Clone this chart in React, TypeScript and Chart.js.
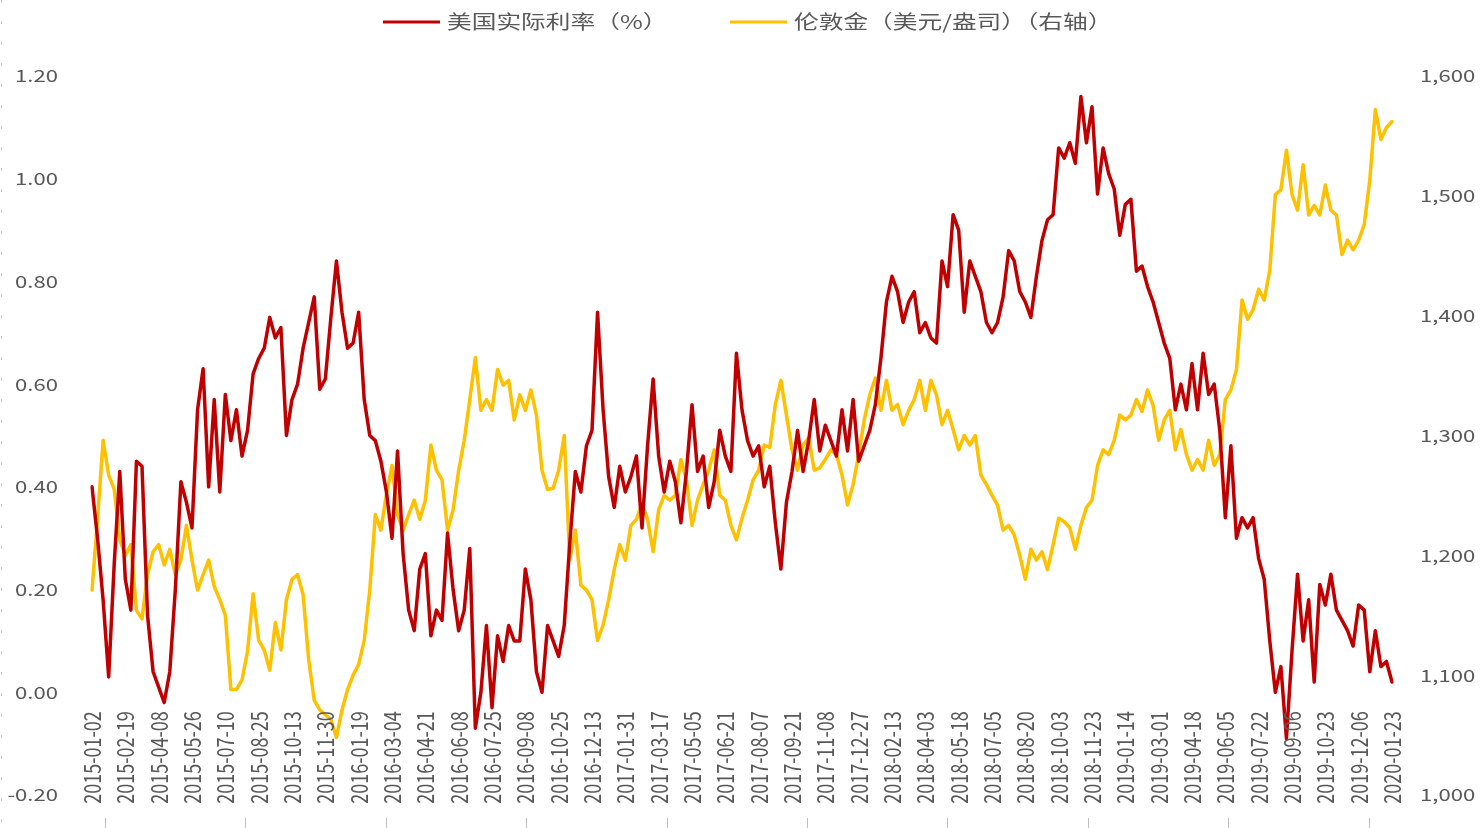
import React, { useEffect, useRef } from 'react';
import { Chart, registerables } from 'chart.js';

Chart.register(...registerables);

// ---- data ----
const tickDates = [
  '2015-01-02', '2015-02-19', '2015-04-08', '2015-05-26', '2015-07-10', '2015-08-25', '2015-10-13', '2015-11-30',
  '2016-01-19', '2016-03-04', '2016-04-21', '2016-06-08', '2016-07-25', '2016-09-08', '2016-10-25', '2016-12-13',
  '2017-01-31', '2017-03-17', '2017-05-05', '2017-06-21', '2017-08-07', '2017-09-21', '2017-11-08', '2017-12-27',
  '2018-02-13', '2018-04-03', '2018-05-18', '2018-07-05', '2018-08-20', '2018-10-03', '2018-11-23',
  '2019-01-14', '2019-03-01', '2019-04-18', '2019-06-05', '2019-07-22', '2019-09-06', '2019-10-23', '2019-12-06',
  '2020-01-23',
];
const pointsPerTick = 6;

const seriesNames = ['美国实际利率（%）', '伦敦金（美元/盎司）（右轴）'];

const realRate = [
  0.40, 0.30, 0.18, 0.03, 0.25, 0.43,
  0.22, 0.16, 0.45, 0.44, 0.15, 0.04,
  0.01, -0.02, 0.04, 0.20, 0.41, 0.37,
  0.32, 0.55, 0.63, 0.40, 0.57, 0.39,
  0.58, 0.49, 0.55, 0.46, 0.51, 0.62,
  0.65, 0.67, 0.73, 0.69, 0.71, 0.50,
  0.57, 0.60, 0.67, 0.72, 0.77, 0.59,
  0.61, 0.73, 0.84, 0.74, 0.67, 0.68,
  0.74, 0.57, 0.50, 0.49, 0.45, 0.39,
  0.30, 0.47, 0.27, 0.16, 0.12, 0.24,
  0.27, 0.11, 0.16, 0.14, 0.31, 0.20,
  0.12, 0.16, 0.28, -0.07, 0.00, 0.13,
  -0.03, 0.11, 0.06, 0.13, 0.10, 0.10,
  0.24, 0.18, 0.04, 0.00, 0.13, 0.10,
  0.07, 0.13, 0.29, 0.43, 0.39, 0.48,
  0.51, 0.74, 0.55, 0.42, 0.36, 0.44,
  0.39, 0.42, 0.46, 0.32, 0.48, 0.61,
  0.46, 0.39, 0.45, 0.41, 0.33, 0.43,
  0.56, 0.43, 0.46, 0.36, 0.41, 0.51,
  0.46, 0.43, 0.66, 0.55, 0.49, 0.46,
  0.48, 0.40, 0.44, 0.33, 0.24, 0.37,
  0.43, 0.51, 0.43, 0.49, 0.57, 0.47,
  0.52, 0.49, 0.46, 0.55, 0.47, 0.57,
  0.45, 0.48, 0.51, 0.56, 0.65, 0.76,
  0.81, 0.78, 0.72, 0.76, 0.78, 0.70,
  0.72, 0.69, 0.68, 0.84, 0.79, 0.93,
  0.90, 0.74, 0.84, 0.81, 0.78, 0.72,
  0.70, 0.72, 0.77, 0.86, 0.84, 0.78,
  0.76, 0.73, 0.81, 0.88, 0.92, 0.93,
  1.06, 1.04, 1.07, 1.03, 1.16, 1.07,
  1.14, 0.97, 1.06, 1.01, 0.98, 0.89,
  0.95, 0.96, 0.82, 0.83, 0.79, 0.76,
  0.72, 0.68, 0.65, 0.55, 0.60, 0.55,
  0.64, 0.55, 0.66, 0.58, 0.60, 0.51,
  0.34, 0.48, 0.30, 0.34, 0.32, 0.34,
  0.26, 0.22, 0.10, 0.00, 0.05, -0.09,
  0.08, 0.23, 0.10, 0.18, 0.02, 0.21,
  0.17, 0.23, 0.16, 0.14, 0.12, 0.09,
  0.17, 0.16, 0.04, 0.12, 0.05, 0.06,
  0.02,
];

const goldPrice = [
  1171, 1230, 1296, 1267, 1255, 1213,
  1200, 1209, 1154, 1147, 1184, 1203,
  1209, 1192, 1205, 1184, 1196, 1225,
  1196, 1171, 1184, 1196, 1174, 1163,
  1150, 1088, 1088, 1096, 1120, 1168,
  1129, 1121, 1104, 1144, 1121, 1163,
  1180, 1184, 1167, 1113, 1079, 1071,
  1067, 1063, 1048, 1071, 1088, 1100,
  1109, 1129, 1171, 1234, 1221, 1251,
  1275, 1234, 1221, 1234, 1246, 1230,
  1246, 1292, 1271, 1263, 1221, 1238,
  1271, 1296, 1330, 1365, 1321, 1330,
  1321, 1355, 1342, 1346, 1313, 1334,
  1321, 1338, 1317, 1271, 1255, 1256,
  1271, 1300, 1196, 1221, 1175, 1171,
  1163, 1129, 1142, 1163, 1188, 1209,
  1196, 1225, 1230, 1243, 1230, 1203,
  1238, 1250, 1246, 1250, 1280, 1263,
  1225, 1246, 1259, 1271, 1288, 1250,
  1246, 1225, 1213, 1231, 1246, 1263,
  1271, 1292, 1290, 1326, 1346, 1317,
  1288, 1271, 1292, 1298, 1271, 1273,
  1280, 1288, 1284, 1267, 1242, 1259,
  1284, 1313, 1334, 1348, 1321, 1346,
  1321, 1326, 1309, 1321, 1330, 1346,
  1321, 1346, 1334, 1309, 1321, 1305,
  1288, 1300, 1292, 1300, 1267, 1259,
  1250, 1242, 1221, 1225, 1217, 1200,
  1180, 1205, 1196, 1203, 1188, 1209,
  1231, 1228, 1223, 1205, 1225, 1240,
  1246, 1275, 1288, 1284, 1296, 1317,
  1313, 1317, 1330, 1320, 1338, 1325,
  1296, 1313, 1321, 1288, 1305, 1284,
  1271, 1280, 1271, 1296, 1275, 1284,
  1330, 1338, 1355, 1413, 1397, 1405,
  1422, 1413, 1438, 1501, 1505, 1538,
  1501, 1488, 1526, 1484, 1492, 1484,
  1509, 1488, 1484, 1451, 1463, 1455,
  1463, 1476, 1513, 1572, 1547, 1557,
  1562,
];

const leftAxis = { min: -0.2, max: 1.2, step: 0.2 };
const rightAxis = { min: 1000, max: 1600, step: 100 };

// ---- styles ----
const RED = '#C00000';
const GOLD = '#FFC000';
const TEXT = '#595959';
const FONT = '"Noto Sans CJK SC", "Noto Sans", sans-serif';
const STRETCH = 1.3;

const fmtLeft = (v: number) => (Math.abs(v) < 1e-9 ? 0 : v).toFixed(2);
const fmtRight = (v: number) => Math.round(v).toLocaleString('en-US');

function stretchedText(
  ctx: CanvasRenderingContext2D, text: string, x: number, y: number,
  align: CanvasTextAlign, rotate = 0,
) {
  ctx.save();
  ctx.translate(x, y);
  ctx.scale(STRETCH, 1);
  if (rotate) ctx.rotate(rotate);
  ctx.textAlign = align;
  ctx.textBaseline = 'middle';
  ctx.fillText(text, 0, 0);
  ctx.restore();
}

const overlayPlugin = {
  id: 'overlay',
  afterDraw(chart: any) {
    const ctx: CanvasRenderingContext2D = chart.ctx;
    const xs = chart.scales.x;
    const yl = chart.scales.y;
    const yr = chart.scales.y1;
    const area = chart.chartArea;
    ctx.save();
    ctx.fillStyle = TEXT;

    // left axis labels
    ctx.font = `17px ${FONT}`;
    yl.ticks.forEach((t: any) => {
      stretchedText(ctx, fmtLeft(t.value), area.left - 34, yl.getPixelForValue(t.value), 'right');
    });
    // right axis labels
    yr.ticks.forEach((t: any) => {
      stretchedText(ctx, fmtRight(t.value), area.right + 28, yr.getPixelForValue(t.value), 'left');
    });

    // category labels (rotated), placed just below the zero line
    const zeroY = yl.getPixelForValue(0);
    ctx.font = `18px ${FONT}`;
    (chart.data.labels as string[]).forEach((lab, i) => {
      if (!lab) return;
      stretchedText(ctx, lab, xs.getPixelForValue(i), zeroY + 19, 'right', -Math.PI / 2);
    });

    // small tick marks at the bottom
    ctx.strokeStyle = '#bfbfbf';
    ctx.lineWidth = 1;
    for (let k = 0; k < 10; k++) {
      const px = Math.round(xs.getPixelForDecimal((13 + 140.4 * k) / 1300)) + 0.5;
      ctx.beginPath();
      ctx.moveTo(px, 818);
      ctx.lineTo(px, 828);
      ctx.stroke();
    }

    // legend
    const legendX = [383, 730];
    ctx.font = `19px ${FONT}`;
    chart.data.datasets.forEach((ds: any, i: number) => {
      ctx.fillStyle = ds.borderColor;
      ctx.fillRect(legendX[i], 20.5, 57, 3);
      ctx.fillStyle = TEXT;
      stretchedText(ctx, ds.label, legendX[i] + 64, 22, 'left');
    });

    // dotted frame edge on the left
    ctx.strokeStyle = '#c8c8c8';
    ctx.setLineDash([3, 18]);
    ctx.beginPath();
    ctx.moveTo(1.5, 0);
    ctx.lineTo(1.5, 828);
    ctx.stroke();
    ctx.restore();
  },
};

export default function App() {
  const ref = useRef<HTMLCanvasElement | null>(null);

  useEffect(() => {
    if (!ref.current) return;
    const labels = realRate.map((_, i) => (i % pointsPerTick === 0 ? tickDates[i / pointsPerTick] : ''));
    const chart = new Chart(ref.current, {
      type: 'line',
      data: {
        labels,
        datasets: [
          {
            label: seriesNames[0],
            data: realRate,
            yAxisID: 'y',
            borderColor: RED,
            backgroundColor: RED,
            borderWidth: 3.5,
            pointRadius: 0,
            tension: 0,
            borderJoinStyle: 'round',
            borderCapStyle: 'round',
          },
          {
            label: seriesNames[1],
            data: goldPrice,
            yAxisID: 'y1',
            borderColor: GOLD,
            backgroundColor: GOLD,
            borderWidth: 3.5,
            pointRadius: 0,
            tension: 0,
            borderJoinStyle: 'round',
            borderCapStyle: 'round',
          },
        ],
      },
      options: {
        animation: false,
        responsive: false,
        events: [],
        layout: { padding: { left: 92, right: 90, top: 76, bottom: 33 } },
        plugins: { legend: { display: false }, tooltip: { enabled: false } },
        scales: {
          x: { type: 'category', display: false, offset: false },
          y: {
            type: 'linear', position: 'left', display: false,
            min: leftAxis.min, max: leftAxis.max, ticks: { stepSize: leftAxis.step },
          },
          y1: {
            type: 'linear', position: 'right', display: false,
            min: rightAxis.min, max: rightAxis.max, ticks: { stepSize: rightAxis.step },
          },
        },
      },
      plugins: [overlayPlugin],
    });
    return () => chart.destroy();
  }, []);

  return (
    <div style={{ position: 'fixed', left: 0, top: 0, width: 1482, height: 828, background: '#fff' }}>
      <canvas ref={ref} width={1482} height={828} style={{ display: 'block' }} />
    </div>
  );
}
